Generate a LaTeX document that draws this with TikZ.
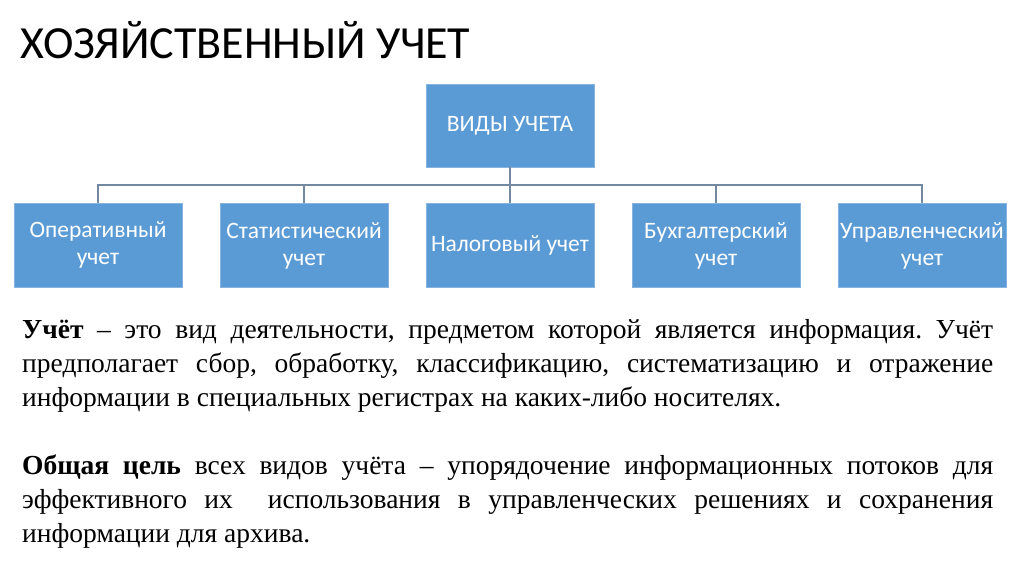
\documentclass[tikz,border=0pt]{standalone}
\usepackage{fontspec}
\setmainfont{Liberation Serif}
\newfontfamily\carlito{Carlito}
\usetikzlibrary{positioning}
\definecolor{BoxBlue}{HTML}{5B9BD5}
\definecolor{LinkGray}{HTML}{7389A2}
\frenchspacing

\begin{document}
\begin{tikzpicture}[
  x=1pt,y=-1pt,
  kind/.style={fill=BoxBlue,draw=BoxBlue!75!white,minimum width=168pt,minimum height=84pt,
    inner sep=2pt,align=center,text=white,font=\carlito\fontsize{23.5}{27}\selectfont},
  link/.style={draw=LinkGray,line width=1.2pt},
  para/.style={anchor=base west,inner sep=0pt,text width=971pt,align=justify,
    font=\fontsize{27.5}{34}\selectfont},
]
\useasboundingbox[fill=white] (0,0) rectangle (1024,574);
% heading and the tree of kinds
\node[anchor=base west,inner sep=0pt,font=\carlito\fontsize{46}{50}\selectfont] (title) at (20,58) {ХОЗЯЙСТВЕННЫЙ УЧЕТ};
\node[kind,minimum height=83pt] (kinds) at (510,125.5) {ВИДЫ УЧЕТА};
\node[kind] (oper) at (98,245) {Оперативный\\учет};
\node[kind] (stat) at (304,245.5) {Статистический\\учет};
\node[kind] (tax)  at (510,245.5) {Налоговый учет};
\node[kind] (acct) at (716,245.5) {Бухгалтерский\\учет};
\node[kind] (mgmt) at (922,245.5) {Управленческий\\учет};
\coordinate (bus) at (510,185);
\draw[link] (kinds.south) -- (bus);
\foreach \k in {oper,stat,tax,acct,mgmt}
  \draw[link] (bus) -| (\k.north);
% the two paragraphs
\node[para] (def) at (22,338) {\textbf{Учёт} – это вид деятельности, предметом которой является информация. Учёт\linebreak
предполагает сбор, обработку, классификацию, систематизацию и отражение\linebreak
информации в специальных регистрах на каких-либо носителях.};
\node[para] (goal) at (22,474) {\textbf{Общая цель} всех видов учёта – упорядочение информационных потоков для\linebreak
эффективного их\ \ использования в управленческих решениях и сохранения\linebreak
информации для архива.};
\end{tikzpicture}
\end{document}
